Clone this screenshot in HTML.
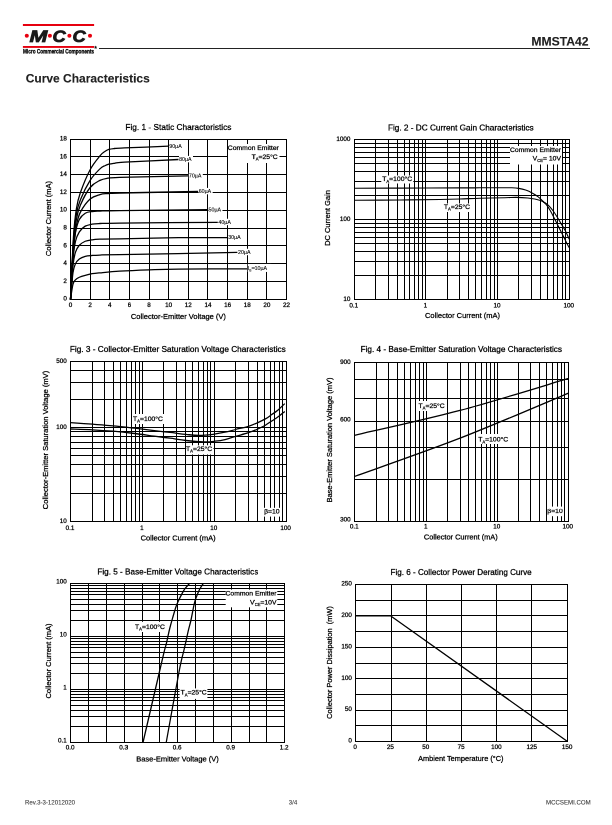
<!DOCTYPE html>
<html><head><meta charset="utf-8"><title>MMSTA42 Curve Characteristics</title>
<style>
html,body{margin:0;padding:0;background:#fff;}
body{width:612px;height:825px;position:relative;overflow:hidden;font-family:"Liberation Sans",sans-serif;}
svg{position:absolute;left:0;top:0;}
#tx{position:absolute;left:0;top:0;width:1224px;height:1650px;will-change:transform;transform:scale(0.5);transform-origin:0 0;}
.t{position:absolute;white-space:nowrap;line-height:1;font-family:"Liberation Sans",sans-serif;color:#000;-webkit-text-stroke-width:0.55px;}
</style></head><body>
<svg width="612" height="825" viewBox="0 0 612 825">
<g shape-rendering="crispEdges" fill="#000">
<rect x="70" y="139" width="1" height="161"/>
<rect x="90" y="139" width="1" height="161"/>
<rect x="109" y="139" width="1" height="161"/>
<rect x="129" y="139" width="1" height="161"/>
<rect x="149" y="139" width="1" height="161"/>
<rect x="168" y="139" width="1" height="161"/>
<rect x="188" y="139" width="1" height="161"/>
<rect x="207" y="139" width="1" height="161"/>
<rect x="227" y="139" width="1" height="161"/>
<rect x="247" y="139" width="1" height="161"/>
<rect x="266" y="139" width="1" height="161"/>
<rect x="286" y="139" width="1" height="161"/>
<rect x="70" y="139" width="217" height="1"/>
<rect x="70" y="156" width="217" height="1"/>
<rect x="70" y="174" width="217" height="1"/>
<rect x="70" y="192" width="217" height="1"/>
<rect x="70" y="210" width="217" height="1"/>
<rect x="70" y="228" width="217" height="1"/>
<rect x="70" y="245" width="217" height="1"/>
<rect x="70" y="263" width="217" height="1"/>
<rect x="70" y="281" width="217" height="1"/>
<rect x="70" y="299" width="217" height="1"/>
<rect x="354" y="139" width="1" height="161"/>
<rect x="375" y="139" width="1" height="161"/>
<rect x="388" y="139" width="1" height="161"/>
<rect x="397" y="139" width="1" height="161"/>
<rect x="404" y="139" width="1" height="161"/>
<rect x="409" y="139" width="1" height="161"/>
<rect x="414" y="139" width="1" height="161"/>
<rect x="418" y="139" width="1" height="161"/>
<rect x="422" y="139" width="1" height="161"/>
<rect x="425" y="139" width="1" height="161"/>
<rect x="447" y="139" width="1" height="161"/>
<rect x="459" y="139" width="1" height="161"/>
<rect x="468" y="139" width="1" height="161"/>
<rect x="475" y="139" width="1" height="161"/>
<rect x="481" y="139" width="1" height="161"/>
<rect x="486" y="139" width="1" height="161"/>
<rect x="490" y="139" width="1" height="161"/>
<rect x="494" y="139" width="1" height="161"/>
<rect x="497" y="139" width="1" height="161"/>
<rect x="518" y="139" width="1" height="161"/>
<rect x="531" y="139" width="1" height="161"/>
<rect x="540" y="139" width="1" height="161"/>
<rect x="547" y="139" width="1" height="161"/>
<rect x="553" y="139" width="1" height="161"/>
<rect x="557" y="139" width="1" height="161"/>
<rect x="562" y="139" width="1" height="161"/>
<rect x="565" y="139" width="1" height="161"/>
<rect x="569" y="139" width="1" height="161"/>
<rect x="354" y="139" width="216" height="1"/>
<rect x="354" y="143" width="216" height="1"/>
<rect x="354" y="147" width="216" height="1"/>
<rect x="354" y="152" width="216" height="1"/>
<rect x="354" y="157" width="216" height="1"/>
<rect x="354" y="163" width="216" height="1"/>
<rect x="354" y="171" width="216" height="1"/>
<rect x="354" y="181" width="216" height="1"/>
<rect x="354" y="195" width="216" height="1"/>
<rect x="354" y="219" width="216" height="1"/>
<rect x="354" y="223" width="216" height="1"/>
<rect x="354" y="227" width="216" height="1"/>
<rect x="354" y="232" width="216" height="1"/>
<rect x="354" y="237" width="216" height="1"/>
<rect x="354" y="243" width="216" height="1"/>
<rect x="354" y="251" width="216" height="1"/>
<rect x="354" y="261" width="216" height="1"/>
<rect x="354" y="275" width="216" height="1"/>
<rect x="354" y="299" width="216" height="1"/>
<rect x="70" y="361" width="1" height="161"/>
<rect x="92" y="361" width="1" height="161"/>
<rect x="104" y="361" width="1" height="161"/>
<rect x="113" y="361" width="1" height="161"/>
<rect x="120" y="361" width="1" height="161"/>
<rect x="126" y="361" width="1" height="161"/>
<rect x="131" y="361" width="1" height="161"/>
<rect x="135" y="361" width="1" height="161"/>
<rect x="139" y="361" width="1" height="161"/>
<rect x="142" y="361" width="1" height="161"/>
<rect x="163" y="361" width="1" height="161"/>
<rect x="176" y="361" width="1" height="161"/>
<rect x="185" y="361" width="1" height="161"/>
<rect x="192" y="361" width="1" height="161"/>
<rect x="198" y="361" width="1" height="161"/>
<rect x="203" y="361" width="1" height="161"/>
<rect x="207" y="361" width="1" height="161"/>
<rect x="210" y="361" width="1" height="161"/>
<rect x="214" y="361" width="1" height="161"/>
<rect x="235" y="361" width="1" height="161"/>
<rect x="248" y="361" width="1" height="161"/>
<rect x="257" y="361" width="1" height="161"/>
<rect x="264" y="361" width="1" height="161"/>
<rect x="270" y="361" width="1" height="161"/>
<rect x="274" y="361" width="1" height="161"/>
<rect x="279" y="361" width="1" height="161"/>
<rect x="282" y="361" width="1" height="161"/>
<rect x="286" y="361" width="1" height="161"/>
<rect x="70" y="361" width="217" height="1"/>
<rect x="70" y="370" width="217" height="1"/>
<rect x="70" y="382" width="217" height="1"/>
<rect x="70" y="399" width="217" height="1"/>
<rect x="70" y="427" width="217" height="1"/>
<rect x="70" y="431" width="217" height="1"/>
<rect x="70" y="436" width="217" height="1"/>
<rect x="70" y="442" width="217" height="1"/>
<rect x="70" y="448" width="217" height="1"/>
<rect x="70" y="455" width="217" height="1"/>
<rect x="70" y="464" width="217" height="1"/>
<rect x="70" y="476" width="217" height="1"/>
<rect x="70" y="493" width="217" height="1"/>
<rect x="70" y="521" width="217" height="1"/>
<rect x="354" y="362" width="1" height="160"/>
<rect x="376" y="362" width="1" height="160"/>
<rect x="388" y="362" width="1" height="160"/>
<rect x="397" y="362" width="1" height="160"/>
<rect x="404" y="362" width="1" height="160"/>
<rect x="410" y="362" width="1" height="160"/>
<rect x="415" y="362" width="1" height="160"/>
<rect x="419" y="362" width="1" height="160"/>
<rect x="423" y="362" width="1" height="160"/>
<rect x="426" y="362" width="1" height="160"/>
<rect x="447" y="362" width="1" height="160"/>
<rect x="460" y="362" width="1" height="160"/>
<rect x="468" y="362" width="1" height="160"/>
<rect x="475" y="362" width="1" height="160"/>
<rect x="481" y="362" width="1" height="160"/>
<rect x="486" y="362" width="1" height="160"/>
<rect x="490" y="362" width="1" height="160"/>
<rect x="494" y="362" width="1" height="160"/>
<rect x="497" y="362" width="1" height="160"/>
<rect x="518" y="362" width="1" height="160"/>
<rect x="530" y="362" width="1" height="160"/>
<rect x="539" y="362" width="1" height="160"/>
<rect x="546" y="362" width="1" height="160"/>
<rect x="552" y="362" width="1" height="160"/>
<rect x="557" y="362" width="1" height="160"/>
<rect x="561" y="362" width="1" height="160"/>
<rect x="564" y="362" width="1" height="160"/>
<rect x="568" y="362" width="1" height="160"/>
<rect x="354" y="362" width="215" height="1"/>
<rect x="354" y="379" width="215" height="1"/>
<rect x="354" y="398" width="215" height="1"/>
<rect x="354" y="421" width="215" height="1"/>
<rect x="354" y="447" width="215" height="1"/>
<rect x="354" y="479" width="215" height="1"/>
<rect x="354" y="521" width="215" height="1"/>
<rect x="70" y="583" width="1" height="160"/>
<rect x="88" y="583" width="1" height="160"/>
<rect x="106" y="583" width="1" height="160"/>
<rect x="124" y="583" width="1" height="160"/>
<rect x="142" y="583" width="1" height="160"/>
<rect x="159" y="583" width="1" height="160"/>
<rect x="177" y="583" width="1" height="160"/>
<rect x="195" y="583" width="1" height="160"/>
<rect x="213" y="583" width="1" height="160"/>
<rect x="231" y="583" width="1" height="160"/>
<rect x="249" y="583" width="1" height="160"/>
<rect x="266" y="583" width="1" height="160"/>
<rect x="284" y="583" width="1" height="160"/>
<rect x="70" y="583" width="215" height="1"/>
<rect x="70" y="585" width="215" height="1"/>
<rect x="70" y="588" width="215" height="1"/>
<rect x="70" y="591" width="215" height="1"/>
<rect x="70" y="594" width="215" height="1"/>
<rect x="70" y="599" width="215" height="1"/>
<rect x="70" y="604" width="215" height="1"/>
<rect x="70" y="610" width="215" height="1"/>
<rect x="70" y="620" width="215" height="1"/>
<rect x="70" y="636" width="215" height="1"/>
<rect x="70" y="638" width="215" height="1"/>
<rect x="70" y="641" width="215" height="1"/>
<rect x="70" y="644" width="215" height="1"/>
<rect x="70" y="647" width="215" height="1"/>
<rect x="70" y="652" width="215" height="1"/>
<rect x="70" y="657" width="215" height="1"/>
<rect x="70" y="663" width="215" height="1"/>
<rect x="70" y="673" width="215" height="1"/>
<rect x="70" y="689" width="215" height="1"/>
<rect x="70" y="691" width="215" height="1"/>
<rect x="70" y="694" width="215" height="1"/>
<rect x="70" y="697" width="215" height="1"/>
<rect x="70" y="700" width="215" height="1"/>
<rect x="70" y="705" width="215" height="1"/>
<rect x="70" y="710" width="215" height="1"/>
<rect x="70" y="716" width="215" height="1"/>
<rect x="70" y="726" width="215" height="1"/>
<rect x="70" y="742" width="215" height="1"/>
<rect x="355" y="584" width="1" height="158"/>
<rect x="391" y="584" width="1" height="158"/>
<rect x="426" y="584" width="1" height="158"/>
<rect x="461" y="584" width="1" height="158"/>
<rect x="496" y="584" width="1" height="158"/>
<rect x="531" y="584" width="1" height="158"/>
<rect x="567" y="584" width="1" height="158"/>
<rect x="355" y="584" width="213" height="1"/>
<rect x="355" y="600" width="213" height="1"/>
<rect x="355" y="615" width="213" height="1"/>
<rect x="355" y="631" width="213" height="1"/>
<rect x="355" y="647" width="213" height="1"/>
<rect x="355" y="663" width="213" height="1"/>
<rect x="355" y="678" width="213" height="1"/>
<rect x="355" y="694" width="213" height="1"/>
<rect x="355" y="710" width="213" height="1"/>
<rect x="355" y="725" width="213" height="1"/>
<rect x="355" y="741" width="213" height="1"/>
</g>
<path d="M70.50,299.50 C70.99,289.13 72.46,252.39 73.45,237.28 C74.43,222.17 75.25,216.24 76.39,208.83 C77.54,201.43 78.03,199.35 80.32,192.83 C82.61,186.31 86.86,175.87 90.14,169.72 C93.41,163.57 97.50,158.98 99.95,155.94 C102.41,152.91 103.39,152.58 104.86,151.50 C106.34,150.42 107.32,149.94 108.79,149.46 C110.26,148.97 111.08,148.82 113.70,148.57 C116.32,148.31 115.34,148.34 124.50,147.94 C133.66,147.54 161.32,146.46 168.68,146.17" fill="none" stroke="#000" stroke-width="1.28" stroke-linejoin="round"/>
<path d="M70.50,299.50 C70.99,289.87 72.46,255.94 73.45,241.72 C74.43,227.50 75.25,221.13 76.39,214.17 C77.54,207.20 78.03,205.57 80.32,199.94 C82.61,194.31 86.86,185.57 90.14,180.39 C93.41,175.20 97.50,171.28 99.95,168.83 C102.41,166.39 103.39,166.49 104.86,165.72 C106.34,164.95 107.32,164.61 108.79,164.21 C110.26,163.81 111.08,163.66 113.70,163.32 C116.32,162.98 113.70,162.80 124.50,162.17 C135.30,161.53 169.50,159.94 178.50,159.50" fill="none" stroke="#000" stroke-width="1.28" stroke-linejoin="round"/>
<path d="M70.50,299.50 C70.99,290.61 72.46,259.50 73.45,246.17 C74.43,232.83 75.25,226.31 76.39,219.50 C77.54,212.69 78.03,210.61 80.32,205.28 C82.61,199.94 86.86,191.65 90.14,187.50 C93.41,183.35 97.01,181.94 99.95,180.39 C102.90,178.83 104.54,178.69 107.81,178.17 C111.08,177.65 106.17,177.65 119.59,177.28 C133.01,176.91 176.86,176.17 188.32,175.94" fill="none" stroke="#000" stroke-width="1.28" stroke-linejoin="round"/>
<path d="M70.50,299.50 C70.99,291.35 72.46,262.91 73.45,250.61 C74.43,238.31 75.25,232.09 76.39,225.72 C77.54,219.35 78.03,216.83 80.32,212.39 C82.61,207.94 86.86,202.02 90.14,199.06 C93.41,196.09 97.01,195.53 99.95,194.61 C102.90,193.69 104.54,193.81 107.81,193.54 C111.08,193.28 104.54,193.35 119.59,193.01 C134.65,192.67 185.05,191.75 198.14,191.50" fill="none" stroke="#000" stroke-width="1.28" stroke-linejoin="round"/>
<path d="M70.50,299.50 C70.91,292.09 72.14,266.17 72.95,255.06 C73.77,243.94 74.35,238.76 75.41,232.83 C76.47,226.91 77.70,222.76 79.34,219.50 C80.97,216.24 83.10,214.61 85.23,213.28 C87.35,211.94 89.65,211.87 92.10,211.50 C94.55,211.13 95.37,211.20 99.95,211.06 C104.54,210.91 101.59,210.83 119.59,210.61 C137.59,210.39 193.23,209.87 207.95,209.72" fill="none" stroke="#000" stroke-width="1.28" stroke-linejoin="round"/>
<path d="M70.50,299.50 C70.91,292.83 72.14,269.13 72.95,259.50 C73.77,249.87 74.35,246.31 75.41,241.72 C76.47,237.13 77.70,234.54 79.34,231.94 C80.97,229.35 83.10,227.47 85.23,226.17 C87.35,224.86 89.65,224.57 92.10,224.12 C94.55,223.68 95.37,223.68 99.95,223.50 C104.54,223.32 99.95,223.25 119.59,223.06 C139.23,222.86 201.41,222.46 217.77,222.34" fill="none" stroke="#000" stroke-width="1.28" stroke-linejoin="round"/>
<path d="M70.50,299.50 C70.91,293.87 72.14,273.57 72.95,265.72 C73.77,257.87 74.35,255.80 75.41,252.39 C76.47,248.98 77.70,247.13 79.34,245.28 C80.97,243.43 83.10,242.20 85.23,241.28 C87.35,240.36 89.65,240.11 92.10,239.77 C94.55,239.43 95.37,239.40 99.95,239.23 C104.54,239.07 106.50,239.04 119.59,238.79 C132.68,238.54 160.50,237.93 178.50,237.72 C196.50,237.51 219.41,237.57 227.59,237.54" fill="none" stroke="#000" stroke-width="1.28" stroke-linejoin="round"/>
<path d="M70.50,299.50 C70.91,295.06 72.14,278.76 72.95,272.83 C73.77,266.91 74.35,266.24 75.41,263.94 C76.47,261.65 77.70,260.31 79.34,259.06 C80.97,257.80 83.10,256.98 85.23,256.39 C87.35,255.80 89.65,255.72 92.10,255.50 C94.55,255.28 95.37,255.20 99.95,255.06 C104.54,254.91 96.68,255.06 119.59,254.61 C142.50,254.17 217.77,252.76 237.41,252.39" fill="none" stroke="#000" stroke-width="1.28" stroke-linejoin="round"/>
<path d="M70.50,299.50 C70.91,296.98 72.14,287.65 72.95,284.39 C73.77,281.13 74.35,281.13 75.41,279.94 C76.47,278.76 77.70,278.05 79.34,277.28 C80.97,276.51 83.10,275.91 85.23,275.32 C87.35,274.73 89.65,274.14 92.10,273.72 C94.55,273.31 95.37,273.25 99.95,272.83 C104.54,272.42 111.41,271.72 119.59,271.23 C127.77,270.74 139.23,270.26 149.05,269.90 C158.86,269.54 162.14,269.28 178.50,269.10 C194.86,268.92 235.77,268.88 247.23,268.83" fill="none" stroke="#000" stroke-width="1.28" stroke-linejoin="round"/>
<rect x="228.00" y="144.00" width="51.50" height="19.00" fill="#fff"/>
<rect x="169.18" y="142.57" width="14.00" height="6.40" fill="#fff"/>
<rect x="179.00" y="155.90" width="14.00" height="6.40" fill="#fff"/>
<rect x="188.82" y="172.34" width="14.00" height="6.40" fill="#fff"/>
<rect x="198.64" y="187.90" width="14.00" height="6.40" fill="#fff"/>
<rect x="208.45" y="206.12" width="14.00" height="6.40" fill="#fff"/>
<rect x="218.27" y="218.74" width="14.00" height="6.40" fill="#fff"/>
<rect x="228.09" y="233.94" width="14.00" height="6.40" fill="#fff"/>
<rect x="237.91" y="248.79" width="14.00" height="6.40" fill="#fff"/>
<rect x="247.73" y="263.94" width="23.50" height="8.00" fill="#fff"/>
<path d="M354.50,188.30 C362.08,188.27 382.42,188.17 400.00,188.10 C417.58,188.03 446.67,187.95 460.00,187.90 C473.33,187.85 472.50,187.82 480.00,187.80 C487.50,187.78 499.68,187.80 505.00,187.80 C510.32,187.80 509.62,187.70 511.90,187.80 C514.18,187.90 516.42,188.02 518.70,188.40 C520.98,188.78 523.30,189.30 525.60,190.10 C527.90,190.90 530.40,192.07 532.50,193.20 C534.60,194.33 536.30,195.38 538.20,196.90 C540.10,198.42 542.45,200.90 543.90,202.30 C545.35,203.70 545.80,203.85 546.90,205.30 C548.00,206.75 549.18,208.68 550.50,211.00 C551.82,213.32 553.45,216.57 554.80,219.20 C556.15,221.83 557.32,224.25 558.60,226.80 C559.88,229.35 561.13,231.77 562.50,234.50 C563.87,237.23 565.67,240.98 566.80,243.20 C567.93,245.42 568.88,247.03 569.30,247.80" fill="none" stroke="#000" stroke-width="1.1" stroke-linejoin="round"/>
<path d="M354.50,200.30 C362.08,200.25 385.75,200.13 400.00,200.00 C414.25,199.87 430.00,199.67 440.00,199.50 C450.00,199.33 453.33,199.22 460.00,199.00 C466.67,198.78 472.50,198.42 480.00,198.20 C487.50,197.98 498.93,197.83 505.00,197.70 C511.07,197.57 512.58,197.35 516.40,197.40 C520.22,197.45 524.85,197.73 527.90,198.00 C530.95,198.27 532.60,198.57 534.70,199.00 C536.80,199.43 538.78,199.97 540.50,200.60 C542.22,201.23 543.63,201.97 545.00,202.80 C546.37,203.63 547.33,204.23 548.70,205.60 C550.07,206.97 551.73,209.02 553.20,211.00 C554.67,212.98 556.13,215.32 557.50,217.50 C558.87,219.68 560.12,221.92 561.40,224.10 C562.68,226.28 563.88,228.07 565.20,230.60 C566.52,233.13 568.62,237.85 569.30,239.30" fill="none" stroke="#000" stroke-width="1.1" stroke-linejoin="round"/>
<rect x="510.00" y="146.00" width="52.00" height="18.50" fill="#fff"/>
<rect x="381.30" y="175.50" width="32.00" height="8.00" fill="#fff"/>
<rect x="443.00" y="203.50" width="27.50" height="8.50" fill="#fff"/>
<path d="M70.50,422.70 C74.17,422.95 85.42,423.68 92.50,424.20 C99.58,424.72 105.98,425.13 113.00,425.80 C120.02,426.47 127.73,427.40 134.60,428.20 C141.47,429.00 148.30,429.90 154.20,430.60 C160.10,431.30 164.70,431.77 170.00,432.40 C175.30,433.03 181.17,433.88 186.00,434.40 C190.83,434.92 194.50,435.50 199.00,435.50 C203.50,435.50 208.67,434.95 213.00,434.40 C217.33,433.85 221.23,433.02 225.00,432.20 C228.77,431.38 231.70,430.48 235.60,429.50 C239.50,428.52 244.68,427.45 248.40,426.30 C252.12,425.15 255.07,423.83 257.90,422.60 C260.73,421.37 263.10,420.23 265.40,418.90 C267.70,417.57 269.58,416.10 271.70,414.60 C273.82,413.10 275.92,411.73 278.10,409.90 C280.28,408.07 283.68,404.65 284.80,403.60" fill="none" stroke="#000" stroke-width="1.28" stroke-linejoin="round"/>
<path d="M70.50,429.00 C74.17,429.13 85.42,429.43 92.50,429.80 C99.58,430.17 105.98,430.58 113.00,431.20 C120.02,431.82 127.73,432.67 134.60,433.50 C141.47,434.33 148.30,435.42 154.20,436.20 C160.10,436.98 164.70,437.48 170.00,438.20 C175.30,438.92 180.33,439.90 186.00,440.50 C191.67,441.10 199.17,441.68 204.00,441.80 C208.83,441.92 211.50,441.57 215.00,441.20 C218.50,440.83 221.57,440.40 225.00,439.60 C228.43,438.80 231.70,437.55 235.60,436.40 C239.50,435.25 244.68,433.93 248.40,432.70 C252.12,431.47 255.07,430.23 257.90,429.00 C260.73,427.77 263.10,426.63 265.40,425.30 C267.70,423.97 269.58,422.42 271.70,421.00 C273.82,419.58 275.92,418.40 278.10,416.80 C280.28,415.20 283.68,412.30 284.80,411.40" fill="none" stroke="#000" stroke-width="1.28" stroke-linejoin="round"/>
<rect x="132.00" y="414.00" width="35.00" height="10.00" fill="#fff"/>
<rect x="186.30" y="445.30" width="27.20" height="9.20" fill="#fff"/>
<rect x="263.00" y="507.80" width="18.00" height="8.80" fill="#fff"/>
<path d="M354.50,435.30 C372.08,431.15 424.33,419.88 460.00,410.40 C495.67,400.92 550.42,383.73 568.50,378.40" fill="none" stroke="#000" stroke-width="1.28" stroke-linejoin="round"/>
<path d="M354.50,476.50 C372.08,470.12 424.33,452.10 460.00,438.20 C495.67,424.30 550.42,400.62 568.50,393.10" fill="none" stroke="#000" stroke-width="1.28" stroke-linejoin="round"/>
<rect x="418.00" y="401.00" width="28.00" height="10.00" fill="#fff"/>
<rect x="478.00" y="434.00" width="34.00" height="10.00" fill="#fff"/>
<rect x="547.00" y="506.60" width="17.00" height="9.60" fill="#fff"/>
<path d="M143.10,742.00 C145.82,730.33 155.83,687.27 159.40,672.00 C162.97,656.73 163.32,655.23 164.50,650.40 C165.68,645.57 165.65,646.57 166.50,643.00 C167.35,639.43 168.55,633.28 169.60,629.00 C170.65,624.72 171.73,621.02 172.80,617.30 C173.87,613.58 175.02,609.53 176.00,606.70 C176.98,603.87 177.72,602.43 178.70,600.30 C179.68,598.17 180.85,595.85 181.90,593.90 C182.95,591.95 183.73,590.33 185.00,588.60 C186.27,586.87 188.75,584.35 189.50,583.50" fill="none" stroke="#000" stroke-width="1.28" stroke-linejoin="round"/>
<path d="M166.30,742.00 C168.42,730.33 176.07,687.27 179.00,672.00 C181.93,656.73 182.80,655.23 183.90,650.40 C185.00,645.57 184.88,646.22 185.60,643.00 C186.32,639.78 187.32,634.85 188.20,631.10 C189.08,627.35 190.10,624.03 190.90,620.50 C191.70,616.97 192.38,612.92 193.00,609.90 C193.62,606.88 193.98,604.70 194.60,602.40 C195.22,600.10 195.90,598.22 196.70,596.10 C197.50,593.98 198.30,591.80 199.40,589.70 C200.50,587.60 202.65,584.53 203.30,583.50" fill="none" stroke="#000" stroke-width="1.28" stroke-linejoin="round"/>
<rect x="225.70" y="589.60" width="51.60" height="17.70" fill="#fff"/>
<rect x="134.30" y="621.80" width="32.00" height="10.20" fill="#fff"/>
<rect x="179.60" y="688.40" width="27.80" height="10.50" fill="#fff"/>
<path d="M355.50,615.90 L390.83,615.90 L567.50,741.50" fill="none" stroke="#000" stroke-width="1.25" stroke-linejoin="round"/>
<rect x="22.9" y="24" width="71.2" height="2" fill="#e6000f"/>
<rect x="22.9" y="46" width="71.2" height="1.9" fill="#e6000f"/>
<circle cx="26.8" cy="35.8" r="2.05" fill="#e6000f"/>
<circle cx="49.9" cy="35.8" r="2.05" fill="#e6000f"/>
<circle cx="69.4" cy="35.8" r="2.05" fill="#e6000f"/>
<circle cx="90.0" cy="35.8" r="2.05" fill="#e6000f"/>
<rect x="99" y="48" width="491" height="1" fill="#222"/>
</svg>
<div id="tx">
<div class="t" style="left:356.80px;top:254.80px;font-size:16.60px;color:#000;transform:translate(-50%,-50%);">Fig. 1 - Static Characteristics</div>
<div class="t" style="left:141.00px;top:609.60px;font-size:12.60px;color:#000;transform:translate(-50%,-50%);">0</div>
<div class="t" style="left:180.27px;top:609.60px;font-size:12.60px;color:#000;transform:translate(-50%,-50%);">2</div>
<div class="t" style="left:219.55px;top:609.60px;font-size:12.60px;color:#000;transform:translate(-50%,-50%);">4</div>
<div class="t" style="left:258.82px;top:609.60px;font-size:12.60px;color:#000;transform:translate(-50%,-50%);">6</div>
<div class="t" style="left:298.09px;top:609.60px;font-size:12.60px;color:#000;transform:translate(-50%,-50%);">8</div>
<div class="t" style="left:337.36px;top:609.60px;font-size:12.60px;color:#000;transform:translate(-50%,-50%);">10</div>
<div class="t" style="left:376.64px;top:609.60px;font-size:12.60px;color:#000;transform:translate(-50%,-50%);">12</div>
<div class="t" style="left:415.91px;top:609.60px;font-size:12.60px;color:#000;transform:translate(-50%,-50%);">14</div>
<div class="t" style="left:455.18px;top:609.60px;font-size:12.60px;color:#000;transform:translate(-50%,-50%);">16</div>
<div class="t" style="left:494.45px;top:609.60px;font-size:12.60px;color:#000;transform:translate(-50%,-50%);">18</div>
<div class="t" style="left:533.73px;top:609.60px;font-size:12.60px;color:#000;transform:translate(-50%,-50%);">20</div>
<div class="t" style="left:573.00px;top:609.60px;font-size:12.60px;color:#000;transform:translate(-50%,-50%);">22</div>
<div class="t" style="left:133.80px;top:597.20px;font-size:12.60px;color:#000;transform:translate(-100%,-50%);">0</div>
<div class="t" style="left:133.80px;top:561.64px;font-size:12.60px;color:#000;transform:translate(-100%,-50%);">2</div>
<div class="t" style="left:133.80px;top:526.09px;font-size:12.60px;color:#000;transform:translate(-100%,-50%);">4</div>
<div class="t" style="left:133.80px;top:490.53px;font-size:12.60px;color:#000;transform:translate(-100%,-50%);">6</div>
<div class="t" style="left:133.80px;top:454.98px;font-size:12.60px;color:#000;transform:translate(-100%,-50%);">8</div>
<div class="t" style="left:133.80px;top:419.42px;font-size:12.60px;color:#000;transform:translate(-100%,-50%);">10</div>
<div class="t" style="left:133.80px;top:383.87px;font-size:12.60px;color:#000;transform:translate(-100%,-50%);">12</div>
<div class="t" style="left:133.80px;top:348.31px;font-size:12.60px;color:#000;transform:translate(-100%,-50%);">14</div>
<div class="t" style="left:133.80px;top:312.76px;font-size:12.60px;color:#000;transform:translate(-100%,-50%);">16</div>
<div class="t" style="left:133.80px;top:277.20px;font-size:12.60px;color:#000;transform:translate(-100%,-50%);">18</div>
<div class="t" style="left:356.80px;top:632.00px;font-size:15.00px;color:#000;transform:translate(-50%,-50%);">Collector-Emitter Voltage (V)</div>
<div class="t" style="left:96.00px;top:437.40px;font-size:15.00px;transform:translate(-50%,-50%) rotate(-90deg);">Collector Current (mA)</div>
<div class="t" style="left:338.56px;top:291.53px;font-size:10.60px;color:#000;transform:translate(0,-50%);-webkit-text-stroke-width:0.2px;">90µA</div>
<div class="t" style="left:358.20px;top:318.20px;font-size:10.60px;color:#000;transform:translate(0,-50%);-webkit-text-stroke-width:0.2px;">80µA</div>
<div class="t" style="left:377.84px;top:351.09px;font-size:10.60px;color:#000;transform:translate(0,-50%);-webkit-text-stroke-width:0.2px;">70µA</div>
<div class="t" style="left:397.47px;top:382.20px;font-size:10.60px;color:#000;transform:translate(0,-50%);-webkit-text-stroke-width:0.2px;">60µA</div>
<div class="t" style="left:417.11px;top:418.64px;font-size:10.60px;color:#000;transform:translate(0,-50%);-webkit-text-stroke-width:0.2px;">50µA</div>
<div class="t" style="left:436.75px;top:443.89px;font-size:10.60px;color:#000;transform:translate(0,-50%);-webkit-text-stroke-width:0.2px;">40µA</div>
<div class="t" style="left:456.38px;top:474.29px;font-size:10.60px;color:#000;transform:translate(0,-50%);-webkit-text-stroke-width:0.2px;">30µA</div>
<div class="t" style="left:476.02px;top:503.98px;font-size:10.60px;color:#000;transform:translate(0,-50%);-webkit-text-stroke-width:0.2px;">20µA</div>
<div class="t" style="left:495.65px;top:535.89px;font-size:10.60px;color:#000;transform:translate(0,-50%);-webkit-text-stroke-width:0.2px;">I<span style="font-size:62%;position:relative;top:0.4em;">B</span>=10µA</div>
<div class="t" style="left:557.60px;top:296.00px;font-size:13.60px;color:#000;transform:translate(-100%,-50%);">Common Emitter</div>
<div class="t" style="left:555.40px;top:314.00px;font-size:13.60px;color:#000;transform:translate(-100%,-50%);">T<span style="font-size:62%;position:relative;top:0.4em;">A</span>=25°C</div>
<div class="t" style="left:921.60px;top:254.80px;font-size:16.44px;color:#000;transform:translate(-50%,-50%);">Fig. 2 - DC Current Gain Characteristics</div>
<div class="t" style="left:707.40px;top:610.80px;font-size:12.60px;color:#000;transform:translate(-50%,-50%);">0.1</div>
<div class="t" style="left:850.73px;top:610.80px;font-size:12.60px;color:#000;transform:translate(-50%,-50%);">1</div>
<div class="t" style="left:994.07px;top:610.80px;font-size:12.60px;color:#000;transform:translate(-50%,-50%);">10</div>
<div class="t" style="left:1137.40px;top:610.80px;font-size:12.60px;color:#000;transform:translate(-50%,-50%);">100</div>
<div class="t" style="left:700.80px;top:598.10px;font-size:12.60px;color:#000;transform:translate(-100%,-50%);">10</div>
<div class="t" style="left:700.80px;top:438.10px;font-size:12.60px;color:#000;transform:translate(-100%,-50%);">100</div>
<div class="t" style="left:700.80px;top:278.10px;font-size:12.60px;color:#000;transform:translate(-100%,-50%);">1000</div>
<div class="t" style="left:925.00px;top:630.00px;font-size:15.00px;color:#000;transform:translate(-50%,-50%);">Collector Current (mA)</div>
<div class="t" style="left:654.00px;top:436.00px;font-size:15.00px;transform:translate(-50%,-50%) rotate(-90deg);">DC Current Gain</div>
<div class="t" style="left:1122.00px;top:300.00px;font-size:13.60px;color:#000;transform:translate(-100%,-50%);">Common Emitter</div>
<div class="t" style="left:1122.00px;top:316.60px;font-size:13.60px;color:#000;transform:translate(-100%,-50%);">V<span style="font-size:62%;position:relative;top:0.4em;">CE</span>= 10V</div>
<div class="t" style="left:764.40px;top:358.20px;font-size:13.60px;color:#000;transform:translate(0,-50%);">T<span style="font-size:62%;position:relative;top:0.4em;">A</span>=100°C</div>
<div class="t" style="left:887.80px;top:414.00px;font-size:13.60px;color:#000;transform:translate(0,-50%);">T<span style="font-size:62%;position:relative;top:0.4em;">A</span>=25°C</div>
<div class="t" style="left:355.60px;top:698.40px;font-size:16.50px;color:#000;transform:translate(-50%,-50%);">Fig. 3 - Collector-Emitter Saturation Voltage Characteristics</div>
<div class="t" style="left:140.04px;top:1056.00px;font-size:12.60px;color:#000;transform:translate(-50%,-50%);">0.1</div>
<div class="t" style="left:283.81px;top:1056.00px;font-size:12.60px;color:#000;transform:translate(-50%,-50%);">1</div>
<div class="t" style="left:427.58px;top:1056.00px;font-size:12.60px;color:#000;transform:translate(-50%,-50%);">10</div>
<div class="t" style="left:571.35px;top:1056.00px;font-size:12.60px;color:#000;transform:translate(-50%,-50%);">100</div>
<div class="t" style="left:133.40px;top:1042.00px;font-size:12.60px;color:#000;transform:translate(-100%,-50%);">10</div>
<div class="t" style="left:133.40px;top:853.65px;font-size:12.60px;color:#000;transform:translate(-100%,-50%);">100</div>
<div class="t" style="left:133.40px;top:722.00px;font-size:12.60px;color:#000;transform:translate(-100%,-50%);">500</div>
<div class="t" style="left:356.20px;top:1075.00px;font-size:15.00px;color:#000;transform:translate(-50%,-50%);">Collector Current (mA)</div>
<div class="t" style="left:90.60px;top:879.60px;font-size:15.10px;transform:translate(-50%,-50%) rotate(-90deg);">Collector-Emitter Saturation Voltage (mV)</div>
<div class="t" style="left:266.00px;top:838.00px;font-size:13.60px;color:#000;transform:translate(0,-50%);">T<span style="font-size:62%;position:relative;top:0.4em;">A</span>=100°C</div>
<div class="t" style="left:372.00px;top:898.00px;font-size:13.60px;color:#000;transform:translate(0,-50%);">T<span style="font-size:62%;position:relative;top:0.4em;">A</span>=25°C</div>
<div class="t" style="left:528.20px;top:1023.00px;font-size:13.60px;color:#000;transform:translate(0,-50%);">β=10</div>
<div class="t" style="left:922.60px;top:698.40px;font-size:16.44px;color:#000;transform:translate(-50%,-50%);">Fig. 4 - Base-Emitter Saturation Voltage Characteristics</div>
<div class="t" style="left:708.60px;top:1053.40px;font-size:12.60px;color:#000;transform:translate(-50%,-50%);">0.1</div>
<div class="t" style="left:851.40px;top:1053.40px;font-size:12.60px;color:#000;transform:translate(-50%,-50%);">1</div>
<div class="t" style="left:993.60px;top:1053.40px;font-size:12.60px;color:#000;transform:translate(-50%,-50%);">10</div>
<div class="t" style="left:1135.40px;top:1053.40px;font-size:12.60px;color:#000;transform:translate(-50%,-50%);">100</div>
<div class="t" style="left:701.20px;top:1039.20px;font-size:12.60px;color:#000;transform:translate(-100%,-50%);">300</div>
<div class="t" style="left:701.20px;top:839.40px;font-size:12.60px;color:#000;transform:translate(-100%,-50%);">600</div>
<div class="t" style="left:701.20px;top:724.40px;font-size:12.60px;color:#000;transform:translate(-100%,-50%);">900</div>
<div class="t" style="left:921.60px;top:1073.80px;font-size:14.76px;color:#000;transform:translate(-50%,-50%);">Collector Current (mA)</div>
<div class="t" style="left:658.00px;top:880.00px;font-size:15.00px;transform:translate(-50%,-50%) rotate(-90deg);">Base-Emitter Saturation Voltage (mV)</div>
<div class="t" style="left:837.00px;top:812.00px;font-size:13.60px;color:#000;transform:translate(0,-50%);">T<span style="font-size:62%;position:relative;top:0.4em;">A</span>=25°C</div>
<div class="t" style="left:956.40px;top:879.20px;font-size:13.60px;color:#000;transform:translate(0,-50%);">T<span style="font-size:62%;position:relative;top:0.4em;">A</span>=100°C</div>
<div class="t" style="left:1094.60px;top:1021.80px;font-size:13.60px;color:#000;transform:translate(0,-50%);">β=10</div>
<div class="t" style="left:355.60px;top:1143.00px;font-size:16.36px;color:#000;transform:translate(-50%,-50%);">Fig. 5 - Base-Emitter Voltage Characteristics</div>
<div class="t" style="left:140.20px;top:1495.20px;font-size:12.60px;color:#000;transform:translate(-50%,-50%);">0.0</div>
<div class="t" style="left:247.20px;top:1495.20px;font-size:12.60px;color:#000;transform:translate(-50%,-50%);">0.3</div>
<div class="t" style="left:354.20px;top:1495.20px;font-size:12.60px;color:#000;transform:translate(-50%,-50%);">0.6</div>
<div class="t" style="left:461.20px;top:1495.20px;font-size:12.60px;color:#000;transform:translate(-50%,-50%);">0.9</div>
<div class="t" style="left:568.20px;top:1495.20px;font-size:12.60px;color:#000;transform:translate(-50%,-50%);">1.2</div>
<div class="t" style="left:133.40px;top:1480.80px;font-size:12.60px;color:#000;transform:translate(-100%,-50%);">0.1</div>
<div class="t" style="left:133.40px;top:1374.80px;font-size:12.60px;color:#000;transform:translate(-100%,-50%);">1</div>
<div class="t" style="left:133.40px;top:1268.80px;font-size:12.60px;color:#000;transform:translate(-100%,-50%);">10</div>
<div class="t" style="left:133.40px;top:1162.80px;font-size:12.60px;color:#000;transform:translate(-100%,-50%);">100</div>
<div class="t" style="left:355.00px;top:1517.00px;font-size:15.00px;color:#000;transform:translate(-50%,-50%);">Base-Emitter Voltage (V)</div>
<div class="t" style="left:96.00px;top:1321.60px;font-size:15.00px;transform:translate(-50%,-50%) rotate(-90deg);">Collector Current (mA)</div>
<div class="t" style="left:553.00px;top:1187.00px;font-size:13.60px;color:#000;transform:translate(-100%,-50%);">Common Emitter</div>
<div class="t" style="left:553.00px;top:1205.00px;font-size:13.60px;color:#000;transform:translate(-100%,-50%);">V<span style="font-size:62%;position:relative;top:0.4em;">CE</span>=10V</div>
<div class="t" style="left:270.00px;top:1253.60px;font-size:13.60px;color:#000;transform:translate(0,-50%);">T<span style="font-size:62%;position:relative;top:0.4em;">A</span>=100°C</div>
<div class="t" style="left:361.20px;top:1385.20px;font-size:13.60px;color:#000;transform:translate(0,-50%);">T<span style="font-size:62%;position:relative;top:0.4em;">A</span>=25°C</div>
<div class="t" style="left:922.20px;top:1144.00px;font-size:16.18px;color:#000;transform:translate(-50%,-50%);">Fig. 6 - Collector Power Derating Curve</div>
<div class="t" style="left:710.20px;top:1494.00px;font-size:12.60px;color:#000;transform:translate(-50%,-50%);">0</div>
<div class="t" style="left:780.87px;top:1494.00px;font-size:12.60px;color:#000;transform:translate(-50%,-50%);">25</div>
<div class="t" style="left:851.53px;top:1494.00px;font-size:12.60px;color:#000;transform:translate(-50%,-50%);">50</div>
<div class="t" style="left:922.20px;top:1494.00px;font-size:12.60px;color:#000;transform:translate(-50%,-50%);">75</div>
<div class="t" style="left:992.87px;top:1494.00px;font-size:12.60px;color:#000;transform:translate(-50%,-50%);">100</div>
<div class="t" style="left:1063.53px;top:1494.00px;font-size:12.60px;color:#000;transform:translate(-50%,-50%);">125</div>
<div class="t" style="left:1134.20px;top:1494.00px;font-size:12.60px;color:#000;transform:translate(-50%,-50%);">150</div>
<div class="t" style="left:703.80px;top:1481.20px;font-size:12.60px;color:#000;transform:translate(-100%,-50%);">0</div>
<div class="t" style="left:703.80px;top:1418.40px;font-size:12.60px;color:#000;transform:translate(-100%,-50%);">50</div>
<div class="t" style="left:703.80px;top:1355.60px;font-size:12.60px;color:#000;transform:translate(-100%,-50%);">100</div>
<div class="t" style="left:703.80px;top:1292.80px;font-size:12.60px;color:#000;transform:translate(-100%,-50%);">150</div>
<div class="t" style="left:703.80px;top:1230.00px;font-size:12.60px;color:#000;transform:translate(-100%,-50%);">200</div>
<div class="t" style="left:703.80px;top:1167.20px;font-size:12.60px;color:#000;transform:translate(-100%,-50%);">250</div>
<div class="t" style="left:921.60px;top:1517.40px;font-size:14.72px;color:#000;transform:translate(-50%,-50%);">Ambient Temperature (°C)</div>
<div class="t" style="left:658.80px;top:1325.00px;font-size:14.80px;transform:translate(-50%,-50%) rotate(-90deg);">Collector Power Dissipation&nbsp; (mW)</div>
<div class="t" style="left:59.0px;top:71.6px;font-size:33px;color:#1a1a1a;font-weight:bold;font-style:italic;transform-origin:0 50%;transform:translate(0,-50%) scaleX(1.3);-webkit-text-stroke:1.5px #1a1a1a;">M</div>
<div class="t" style="left:105.2px;top:71.6px;font-size:33px;color:#1a1a1a;font-weight:bold;font-style:italic;transform-origin:0 50%;transform:translate(0,-50%) scaleX(1.11);-webkit-text-stroke:1.5px #1a1a1a;">C</div>
<div class="t" style="left:145.0px;top:71.6px;font-size:33px;color:#1a1a1a;font-weight:bold;font-style:italic;transform-origin:0 50%;transform:translate(0,-50%) scaleX(1.11);-webkit-text-stroke:1.5px #1a1a1a;">C</div>
<div class="t" style="left:45.80px;top:103.40px;font-size:12.60px;font-weight:bold;color:#000;transform:translate(0,-50%);-webkit-text-stroke:0.6px #000;transform-origin:0 50%;transform:translate(0,-50%) scaleX(0.749);">Micro Commercial Components</div>
<div class="t" style="left:188.60px;top:97.00px;font-size:14.00px;color:#000;transform:translate(0,-50%);">*</div>
<div class="t" style="left:1177.00px;top:83.40px;font-size:24.30px;font-weight:bold;color:#222;transform:translate(-100%,-50%);-webkit-text-stroke-width:0.25px;">MMSTA42</div>
<div class="t" style="left:51.40px;top:157.00px;font-size:24.00px;font-weight:bold;color:#222;transform:translate(0,-50%);-webkit-text-stroke-width:0.25px;">Curve Characteristics</div>
<div class="t" style="left:50.00px;top:1605.40px;font-size:12.20px;color:#3a3a3a;transform:translate(0,-50%);-webkit-text-stroke-width:0.2px;">Rev.3-3-12012020</div>
<div class="t" style="left:586.00px;top:1605.40px;font-size:12.20px;color:#3a3a3a;transform:translate(-50%,-50%);-webkit-text-stroke-width:0.2px;">3/4</div>
<div class="t" style="left:1181.40px;top:1605.40px;font-size:12.20px;color:#3a3a3a;transform:translate(-100%,-50%);-webkit-text-stroke-width:0.2px;">MCCSEMI.COM</div>
</div>
</body></html>
